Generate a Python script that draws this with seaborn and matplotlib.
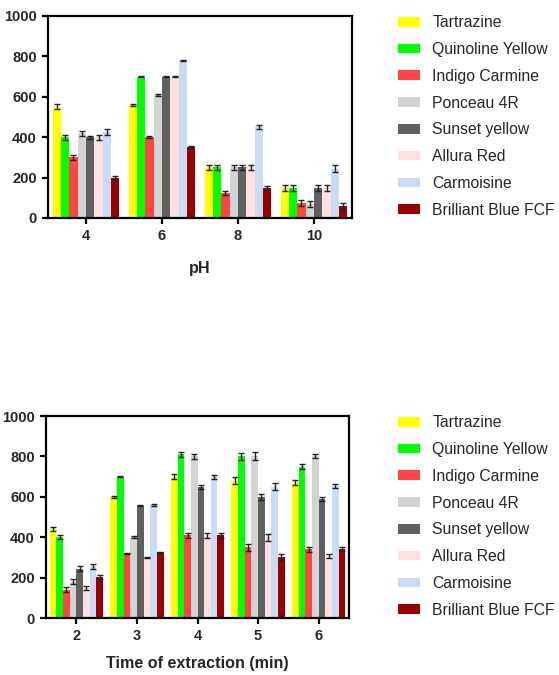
import matplotlib
matplotlib.use("Agg")
import matplotlib.pyplot as plt
import seaborn as sns
import pandas as pd
import numpy as np

dyes = ["Tartrazine", "Quinoline Yellow", "Indigo Carmine", "Ponceau 4R",
        "Sunset yellow", "Allura Red", "Carmoisine", "Brilliant Blue FCF"]
colors = ["#FFFF00", "#00FF00", "#FF4444", "#D3D3D3",
          "#606060", "#FFE0E0", "#C8DCF5", "#990000"]

ph_levels = ["4", "6", "8", "10"]
ph_values = {
    "Tartrazine":         [550, 560, 250, 150],
    "Quinoline Yellow":   [400, 700, 250, 150],
    "Indigo Carmine":     [300, 400, 125, 75],
    "Ponceau 4R":         [420, 610, 250, 70],
    "Sunset yellow":      [400, 700, 250, 150],
    "Allura Red":         [400, 700, 250, 150],
    "Carmoisine":         [425, 780, 450, 245],
    "Brilliant Blue FCF": [200, 350, 150, 60],
}
ph_sd = {
    "Tartrazine":         [12, 5, 12, 15],
    "Quinoline Yellow":   [12, 4, 12, 15],
    "Indigo Carmine":     [12, 5, 10, 15],
    "Ponceau 4R":         [12, 4, 10, 15],
    "Sunset yellow":      [8, 3, 10, 15],
    "Allura Red":         [12, 4, 12, 15],
    "Carmoisine":         [14, 4, 10, 18],
    "Brilliant Blue FCF": [10, 4, 10, 15],
}

time_levels = ["2", "3", "4", "5", "6"]
time_values = {
    "Tartrazine":         [440, 600, 700, 680, 670],
    "Quinoline Yellow":   [400, 700, 810, 800, 750],
    "Indigo Carmine":     [140, 320, 410, 350, 340],
    "Ponceau 4R":         [180, 400, 800, 800, 800],
    "Sunset yellow":      [245, 555, 650, 600, 590],
    "Allura Red":         [148, 300, 410, 400, 308],
    "Carmoisine":         [255, 560, 700, 650, 655],
    "Brilliant Blue FCF": [205, 325, 410, 300, 340],
}
time_sd = {
    "Tartrazine":         [10, 4, 12, 18, 12],
    "Quinoline Yellow":   [10, 4, 12, 18, 12],
    "Indigo Carmine":     [12, 4, 12, 18, 12],
    "Ponceau 4R":         [12, 4, 12, 20, 10],
    "Sunset yellow":      [10, 3, 10, 15, 10],
    "Allura Red":         [10, 4, 12, 18, 10],
    "Carmoisine":         [12, 4, 10, 18, 10],
    "Brilliant Blue FCF": [10, 4, 12, 15, 10],
}


def long_frame(levels, values, sds):
    rows = []
    for d in dyes:
        for i, lv in enumerate(levels):
            rows.append({"x": lv, "dye": d, "y": values[d][i], "sd": sds[d][i]})
    return pd.DataFrame(rows)


sns.set_style("white")
plt.rcParams["font.family"] = ["Liberation Sans", "DejaVu Sans"]

fig = plt.figure(figsize=(5.59, 6.75), dpi=100)
ax1 = fig.add_axes([48 / 559, 1 - 218 / 675, (352 - 48) / 559, 202 / 675])
ax2 = fig.add_axes([46 / 559, 1 - 618 / 675, (349 - 46) / 559, 202 / 675])


def draw(ax, levels, values, sds, xlabel, labelpad, legend_top):
    df = long_frame(levels, values, sds)
    sns.barplot(data=df, x="x", y="y", hue="dye", order=levels, hue_order=dyes,
                palette=colors, errorbar=None, width=0.88, linewidth=0,
                saturation=1, ax=ax, legend=False)
    for cont, d in zip(ax.containers, dyes):
        xs = [p.get_x() + p.get_width() / 2 for p in cont.patches]
        hs = [p.get_height() for p in cont.patches]
        ax.errorbar(xs, hs, yerr=sds[d], fmt="none", ecolor="#222222",
                    elinewidth=1.0, capsize=2.0, capthick=1.0, zorder=5)
    ax.set_ylim(0, 1000)
    ax.set_xlim(-0.5, len(levels) - 0.5)
    ax.set_yticks([0, 200, 400, 600, 800, 1000])
    ax.set_ylabel("")
    ax.set_xlabel(xlabel, fontsize=11.6, fontweight="bold", labelpad=labelpad)
    for s in ax.spines.values():
        s.set_visible(True)
        s.set_color("black")
        s.set_linewidth(1.6)
    ax.tick_params(axis="both", which="major", direction="out", length=4.5,
                   width=1.6, color="black", labelsize=10.5, bottom=True, left=True)
    for lab in ax.get_xticklabels() + ax.get_yticklabels():
        lab.set_fontweight("bold")
    handles = [plt.Rectangle((0, 0), 1, 1, facecolor=c, edgecolor="none") for c in colors]
    fig.legend(handles, dyes, loc="upper left",
               bbox_to_anchor=(392 / 559, 1 - legend_top / 675),
               bbox_transform=fig.transFigure, frameon=False, fontsize=11.3,
               handlelength=1.4, handleheight=0.57, handletextpad=0.76,
               labelspacing=0.75, borderaxespad=0)


draw(ax1, ph_levels, ph_values, ph_sd, "pH", 13, 9)
draw(ax2, time_levels, time_values, time_sd, "Time of extraction (min)", 9, 409)

fig.savefig("out.png", dpi=100)
